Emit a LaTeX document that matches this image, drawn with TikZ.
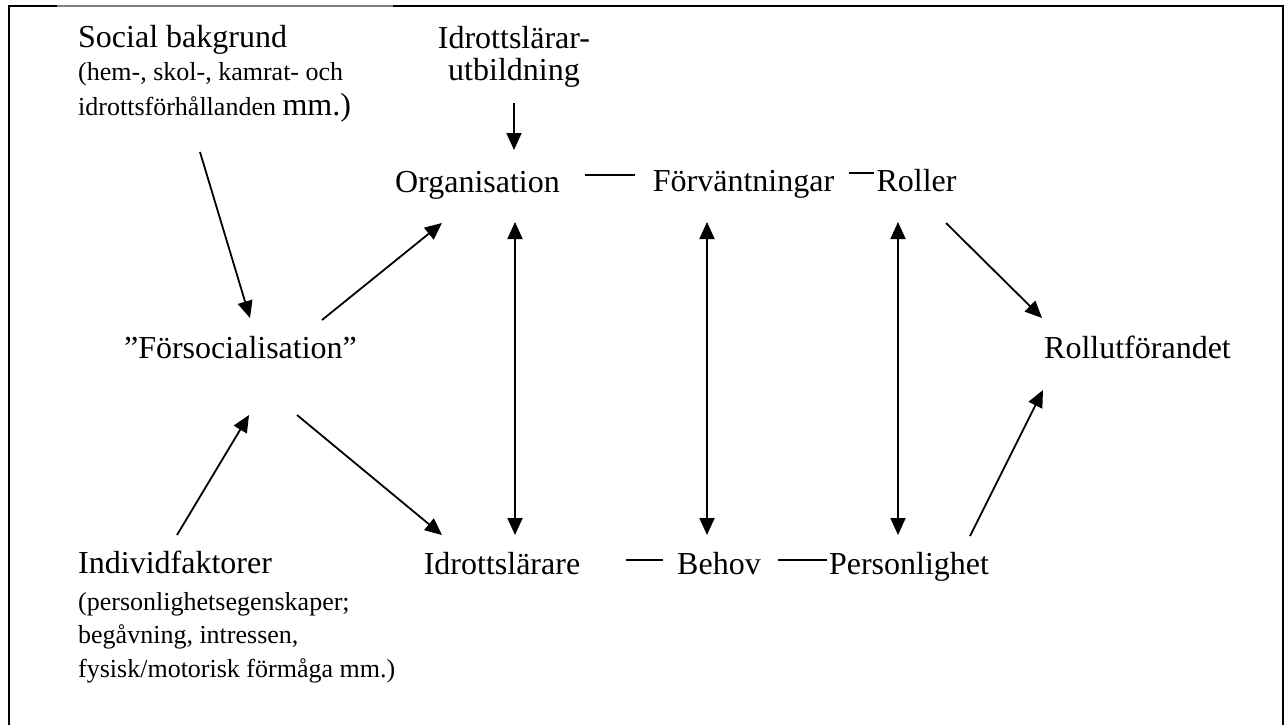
\documentclass[tikz,border=0pt]{standalone}
\usepackage{fontspec}
\setmainfont{Liberation Serif}
\usetikzlibrary{arrows.meta}
\tikzset{
  lbl/.style={inner sep=0pt, font=\fontsize{32}{38}\selectfont},
  sml/.style={inner sep=0pt, font=\fontsize{26}{31}\selectfont},
  conn/.style={line width=1.8pt, -{Triangle[length=17pt,width=15pt]}},
  dconn/.style={line width=1.8pt, {Triangle[length=17pt,width=15pt]}-{Triangle[length=17pt,width=15pt]}},
  tie/.style={line width=1.8pt},
  frame/.style={line width=2.2pt}
}
\begin{document}
\begin{tikzpicture}[x=1pt,y=-1pt]
\useasboundingbox (0,0) rectangle (1285,724);
% frame
\draw[frame] (9,730) -- (9,6) -- (57,6);
\draw[line width=1.2pt, gray] (57,6) -- (393,6);
\draw[frame] (393,6) -- (1283,6) -- (1283,730);

% text nodes
\node[lbl, anchor=base west] (soc) at (78,47) {Social bakgrund};
\node[sml, anchor=base west] (soc2) at (78,80) {(hem-, skol-, kamrat- och};
\node[sml, anchor=base west] (soc3) at (78,115) {idrottsförhållanden \fontsize{32}{38}\selectfont mm.)};
\node[lbl, anchor=base] (utb1) at (514,48) {Idrottslärar-};
\node[lbl, anchor=base] (utb) at (514,80) {utbildning};
\node[lbl, anchor=base] (org) at (477.5,192) {Organisation};
\node[lbl, anchor=base] (forv) at (743.5,191) {Förväntningar};
\node[lbl, anchor=base] (rol) at (916.5,191) {Roller};
\node[lbl, anchor=base] (fors) at (240.5,358) {”Försocialisation”};
\node[lbl, anchor=base] (rut) at (1137.5,358) {Rollutförandet};
\node[lbl, anchor=base] (idl) at (502,574) {Idrottslärare};
\node[lbl, anchor=base] (beh) at (719,574) {Behov};
\node[lbl, anchor=base] (per) at (909,574) {Personlighet};
\node[lbl, anchor=base west] (ind) at (78,573) {Individfaktorer};
\node[sml, anchor=base west] (ind2) at (78,610) {(personlighetsegenskaper;};
\node[sml, anchor=base west] (ind3) at (78,643) {begåvning, intressen,};
\node[sml, anchor=base west] (ind4) at (78,677) {fysisk/motorisk förmåga mm.)};

% connector end points
\coordinate (socOut) at (200,152);
\coordinate (forsInTop) at (250,318);
\coordinate (indOut) at (177,535);
\coordinate (forsInBot) at (249,415);
\coordinate (forsOutTop) at (322,320);
\coordinate (orgInL) at (442,223);
\coordinate (forsOutBot) at (297,415);
\coordinate (idlInL) at (442,535);
\coordinate (utbOut) at (514,103);
\coordinate (orgInTop) at (514,150);
\coordinate (orgS) at (515,222);
\coordinate (idlN) at (515,535);
\coordinate (forvS) at (707,222);
\coordinate (behN) at (707,535);
\coordinate (rolS) at (898,222);
\coordinate (perN) at (898,535);
\coordinate (rolOut) at (946,223);
\coordinate (rutInTop) at (1042,318);
\coordinate (perOut) at (970,536);
\coordinate (rutInBot) at (1043,390);
\coordinate (orgE) at (585,175);
\coordinate (forvW) at (635,175);
\coordinate (forvE) at (849,173);
\coordinate (rolW) at (874,173);
\coordinate (idlE) at (626,560);
\coordinate (behW) at (663,560);
\coordinate (behE) at (778,560);
\coordinate (perW) at (827,560);

% connectors
\draw[conn] (socOut) -- (forsInTop);
\draw[conn] (indOut) -- (forsInBot);
\draw[conn] (forsOutTop) -- (orgInL);
\draw[conn] (forsOutBot) -- (idlInL);
\draw[conn] (utbOut) -- (orgInTop);
\draw[dconn] (orgS) -- (idlN);
\draw[dconn] (forvS) -- (behN);
\draw[dconn] (rolS) -- (perN);
\draw[conn] (rolOut) -- (rutInTop);
\draw[conn] (perOut) -- (rutInBot);
\draw[tie] (orgE) -- (forvW);
\draw[tie] (forvE) -- (rolW);
\draw[tie] (idlE) -- (behW);
\draw[tie] (behE) -- (perW);
\end{tikzpicture}
\end{document}
